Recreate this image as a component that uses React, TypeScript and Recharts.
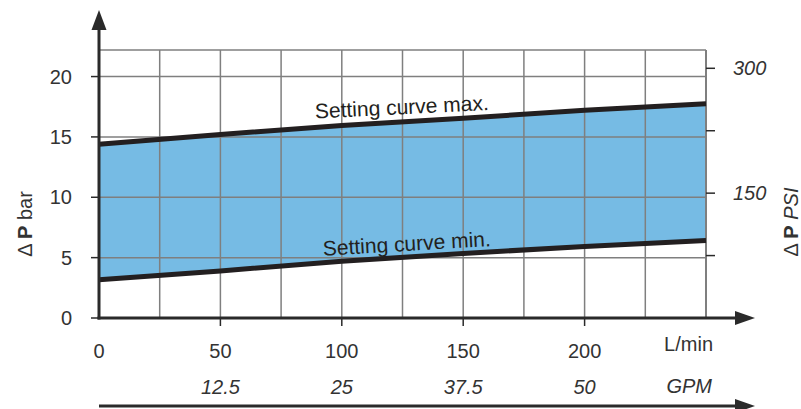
import React from 'react';
import { ComposedChart, Area, Line, XAxis, YAxis, ReferenceLine } from 'recharts';

// flow in L/min, pressure drop in bar
const flow = [0, 50, 100, 150, 200, 250];
const maxCurve = [14.4, 15.2, 15.95, 16.55, 17.2, 17.75];
const minCurve = [3.17, 3.9, 4.7, 5.35, 5.92, 6.41];

const flowTicks = [0, 25, 50, 75, 100, 125, 150, 175, 200, 225, 250];
const flowLabels = [0, 50, 100, 150, 200];
const gpmTicks = [12.5, 25, 37.5, 50];
const barTicks = [0, 5, 10, 15, 20];
const psiTicks = [75, 150, 225, 300];
const psiLabels = [150, 300];

const BAR_MAX = 22.2;
const PSI_PER_BAR = 14.5038;
const FLOW_MAX = 250;
const L_PER_GPM = 4; // the sheet draws 1 GPM as 4 L/min

const data = flow.map((f, i) => ({
  flow: f,
  max: maxCurve[i],
  min: minCurve[i],
  band: [minCurve[i], maxCurve[i]],
}));

// layout
const W = 801;
const H = 409;
const PLOT_L = 99;
const PLOT_R = 706;
const PLOT_T = 50;
const PLOT_B = 318;

const FONT = '"Liberation Sans", Arial, Helvetica, sans-serif';
const TEXT = '#333333';
const AXIS = '#2a2a2a';
const GRID = '#7f7f7f';
const FILL = '#76BBE4';
const CURVE = '#231f20';

const FlowTick = (props: any) => {
  const { x, y, payload } = props;
  const v = payload.value;
  const gpm = v / L_PER_GPM;
  if (v === FLOW_MAX) {
    return (
      <g>
        <text x={x + 7} y={y + 33} textAnchor="end" fontSize={20} fill={TEXT} fontFamily={FONT}>
          L/min
        </text>
        <text x={x + 6} y={y + 75} textAnchor="end" fontSize={20} fontStyle="italic" fill={TEXT} fontFamily={FONT}>
          GPM
        </text>
      </g>
    );
  }
  return (
    <g>
      {v > 0 && flowLabels.includes(v) && (
        <line x1={x} x2={x} y1={y} y2={y + 8} stroke={AXIS} strokeWidth={1.5} />
      )}
      {flowLabels.includes(v) && (
        <text x={x} y={y + 40} textAnchor="middle" fontSize={20} fill={TEXT} fontFamily={FONT}>
          {v}
        </text>
      )}
      {gpmTicks.includes(gpm) && (
        <text x={x} y={y + 76} textAnchor="middle" fontSize={20} fontStyle="italic" fill={TEXT} fontFamily={FONT}>
          {gpm}
        </text>
      )}
    </g>
  );
};

const curveLabel = (text: string, at: number, dx: number, dy: number, angle: number) => (p: any) => {
  if (p.index !== at) return <g key={`d-${text}-${p.index}`} />;
  const x = p.cx + dx;
  const y = p.cy + dy;
  return (
    <text
      key={`d-${text}-${p.index}`}
      x={x}
      y={y}
      transform={`rotate(${angle}, ${x}, ${y})`}
      fontSize={21}
      fill={CURVE}
      fontFamily={FONT}
    >
      {text}
    </text>
  );
};

export default function App() {
  return (
    <div style={{ position: 'absolute', left: 0, top: 0, width: W, height: H, background: '#fff' }}>
      <ComposedChart
        width={W}
        height={H}
        data={data}
        margin={{ top: PLOT_T, right: 0, bottom: 0, left: 0 }}
      >
        <XAxis
          xAxisId="lmin"
          dataKey="flow"
          type="number"
          domain={[0, FLOW_MAX]}
          ticks={flowTicks}
          height={H - PLOT_B}
          axisLine={false}
          tickLine={false}
          tickSize={0}
          tickMargin={0}
          tick={<FlowTick />}
          interval={0}
        />
        <YAxis
          yAxisId="bar"
          type="number"
          domain={[0, BAR_MAX]}
          ticks={barTicks}
          width={PLOT_L}
          axisLine={false}
          tickLine={{ stroke: AXIS, strokeWidth: 1.5 }}
          tickSize={8}
          tickMargin={19}
          tick={{ fontSize: 20, fill: TEXT, fontFamily: FONT }}
          interval={0}
        />
        <YAxis
          yAxisId="psi"
          orientation="right"
          type="number"
          domain={[0, BAR_MAX * PSI_PER_BAR]}
          allowDataOverflow
          ticks={psiTicks}
          width={W - PLOT_R}
          axisLine={false}
          tickLine={{ stroke: AXIS, strokeWidth: 1.5 }}
          tickSize={9}
          tickMargin={18}
          tickFormatter={(v: number) => (psiLabels.includes(v) ? String(v) : '')}
          tick={{ fontSize: 20, fill: TEXT, fontFamily: FONT, fontStyle: 'italic' }}
          interval={0}
        />
        <Area
          xAxisId="lmin"
          yAxisId="bar"
          dataKey="band"
          type="linear"
          stroke="none"
          fill={FILL}
          fillOpacity={1}
          isAnimationActive={false}
        />
        {flowTicks.map((t) => (
          <ReferenceLine
            key={`vx-${t}`}
            xAxisId="lmin"
            yAxisId="bar"
            x={t}
            stroke={GRID}
            strokeWidth={t === FLOW_MAX ? 2 : 1.5}
          />
        ))}
        {[...barTicks.filter((t) => t > 0), BAR_MAX].map((t) => (
          <ReferenceLine key={`hy-${t}`} xAxisId="lmin" yAxisId="bar" y={t} stroke={GRID} strokeWidth={1.5} />
        ))}
        <Line
          xAxisId="lmin"
          yAxisId="bar"
          dataKey="max"
          type="linear"
          stroke={CURVE}
          strokeWidth={5}
          dot={curveLabel('Setting curve max.', 2, -26.5, -7, -2.8)}
          activeDot={false}
          isAnimationActive={false}
        />
        <Line
          xAxisId="lmin"
          yAxisId="bar"
          dataKey="min"
          type="linear"
          stroke={CURVE}
          strokeWidth={5}
          dot={curveLabel('Setting curve min.', 2, -18.5, -5.5, -3.3)}
          activeDot={false}
          isAnimationActive={false}
        />
      </ComposedChart>

      <svg
        width={W}
        height={H}
        style={{ position: 'absolute', left: 0, top: 0, pointerEvents: 'none' }}
      >
        {/* vertical axis with arrow */}
        <line x1={PLOT_L} x2={PLOT_L} y1={PLOT_B + 1.5} y2={28} stroke={AXIS} strokeWidth={3} />
        <polygon points={`${PLOT_L},10 ${PLOT_L - 7.5},30 ${PLOT_L + 7.5},30`} fill={AXIS} />
        {/* L/min axis with arrow */}
        <line x1={PLOT_L - 1.5} x2={737} y1={PLOT_B} y2={PLOT_B} stroke={AXIS} strokeWidth={3} />
        <polygon points={`755,${PLOT_B} 735,${PLOT_B - 7} 735,${PLOT_B + 7}`} fill={AXIS} />
        {/* GPM arrow */}
        <line x1={PLOT_L} x2={737} y1={406} y2={406} stroke={AXIS} strokeWidth={3} />
        <polygon points="755,406 735,399 735,413" fill={AXIS} />

        <text
          transform="translate(31.5, 224) rotate(-90)"
          textAnchor="middle"
          fontSize={20}
          fill={TEXT}
          fontFamily={FONT}
        >
          Δ <tspan fontWeight="bold">P</tspan> bar
        </text>
        <text
          transform="translate(798, 222) rotate(-90)"
          textAnchor="middle"
          fontSize={20}
          fill={TEXT}
          fontFamily={FONT}
        >
          Δ <tspan fontWeight="bold">P</tspan> <tspan fontStyle="italic">PSI</tspan>
        </text>
      </svg>
    </div>
  );
}
